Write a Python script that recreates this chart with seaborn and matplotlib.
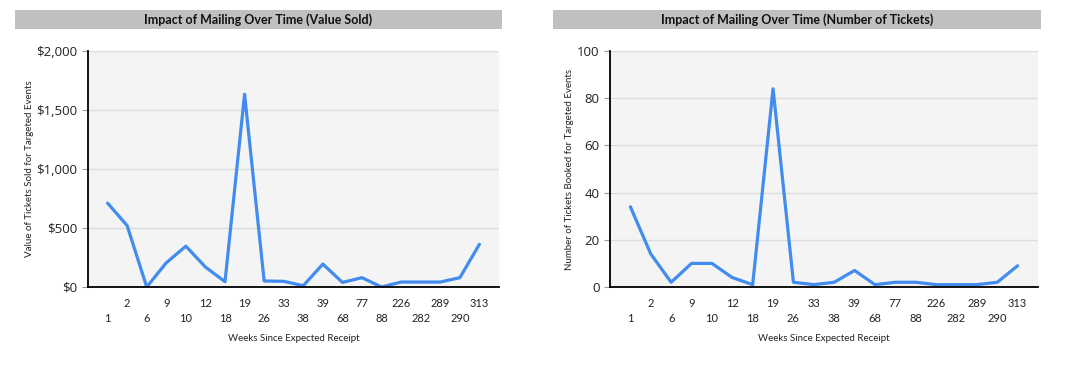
import numpy as np
import pandas as pd
import seaborn as sns
import matplotlib.pyplot as plt
from matplotlib.patches import Rectangle
from matplotlib.ticker import FuncFormatter

# weeks since expected receipt (categorical axis)
weeks = ['1', '2', '6', '9', '10', '12', '18', '19', '26', '33',
         '38', '39', '68', '77', '88', '226', '282', '289', '290', '313']
value_sold = [711, 520, 0, 205, 346, 169, 45, 1633, 51, 48,
              11, 194, 39, 79, 0, 42, 42, 42, 79, 362]
num_tickets = [34, 14, 2, 10, 10, 4, 1, 84, 2, 1,
               2, 7, 1, 2, 2, 1, 1, 1, 2, 9]

df = pd.DataFrame({'week': weeks, 'value': value_sold, 'tickets': num_tickets})

sns.set_style('white')
plt.rcParams['font.family'] = ['Lato', 'DejaVu Sans']

LINE = '#428bef'
fig = plt.figure(figsize=(10.83, 3.91), dpi=100)


def draw_panel(rect, bar, col, title, ylabel, ylab_x, ymax, ystep, fmt):
    ax = fig.add_axes(rect)
    ax.set_facecolor('#f4f4f4')
    sns.lineplot(data=df, x='week', y=col, ax=ax, color=LINE, linewidth=2.3, sort=False)
    ax.set_xlim(-1, len(weeks))
    ax.set_ylim(0, ymax)
    ax.set_yticks(np.arange(0, ymax + 1, ystep))
    ax.yaxis.set_major_formatter(FuncFormatter(fmt))
    ax.grid(axis='y', color='#dcdcdc', linewidth=1)
    ax.set_axisbelow(True)
    for s in ['top', 'right']:
        ax.spines[s].set_visible(False)
    for s in ['left', 'bottom']:
        ax.spines[s].set_color('black')
        ax.spines[s].set_linewidth(1.3)
    ax.set_xticks(range(-1, len(weeks) + 1))
    ax.set_xticklabels([''] + weeks + [''])
    ax.tick_params(axis='x', length=4, color='#999999', labelsize=8, labelcolor='#222222')
    ax.tick_params(axis='y', length=4, color='#999999', labelsize=9.5, labelcolor='#222222',
                   left=True, labelfontfamily='Open Sans')
    ticks = ax.xaxis.get_major_ticks()
    for i, t in enumerate(ticks[1:-1]):
        t.set_pad(15 if i % 2 == 0 else 4)
    ax.set_xlabel('Weeks Since Expected Receipt', fontsize=7, color='#222222', labelpad=7)
    ax.set_ylabel(ylabel, fontsize=7, color='#222222', va='center')
    ax.yaxis.set_label_coords(ylab_x, 0.5)

    # gray title bar
    x0, x1 = bar
    y0, y1 = 1 - 29 / 391, 1 - 10 / 391
    fig.add_artist(Rectangle((x0, y0), x1 - x0, y1 - y0, transform=fig.transFigure,
                             facecolor='#c0c0c0', edgecolor='none'))
    fig.text((x0 + x1) / 2, (y0 + y1) / 2, title, ha='center', va='center',
             fontsize=9, fontweight='bold', color='#111111')
    return ax


draw_panel([88 / 1083, 1 - 287 / 391, 411 / 1083, 236 / 391], (15 / 1083, 502 / 1083),
           'value', 'Impact of Mailing Over Time (Value Sold)',
           'Value of Tickets Sold for Targeted Events', -59 / 411, 2000, 500,
           lambda v, p: f'${v:,.0f}')
draw_panel([610 / 1083, 1 - 287 / 391, 428 / 1083, 236 / 391], (553 / 1083, 1041 / 1083),
           'tickets', 'Impact of Mailing Over Time (Number of Tickets)',
           'Number of Tickets Booked for Targeted Events', -41 / 428, 100, 20,
           lambda v, p: f'{v:.0f}')

fig.savefig('out.png', dpi=100)
